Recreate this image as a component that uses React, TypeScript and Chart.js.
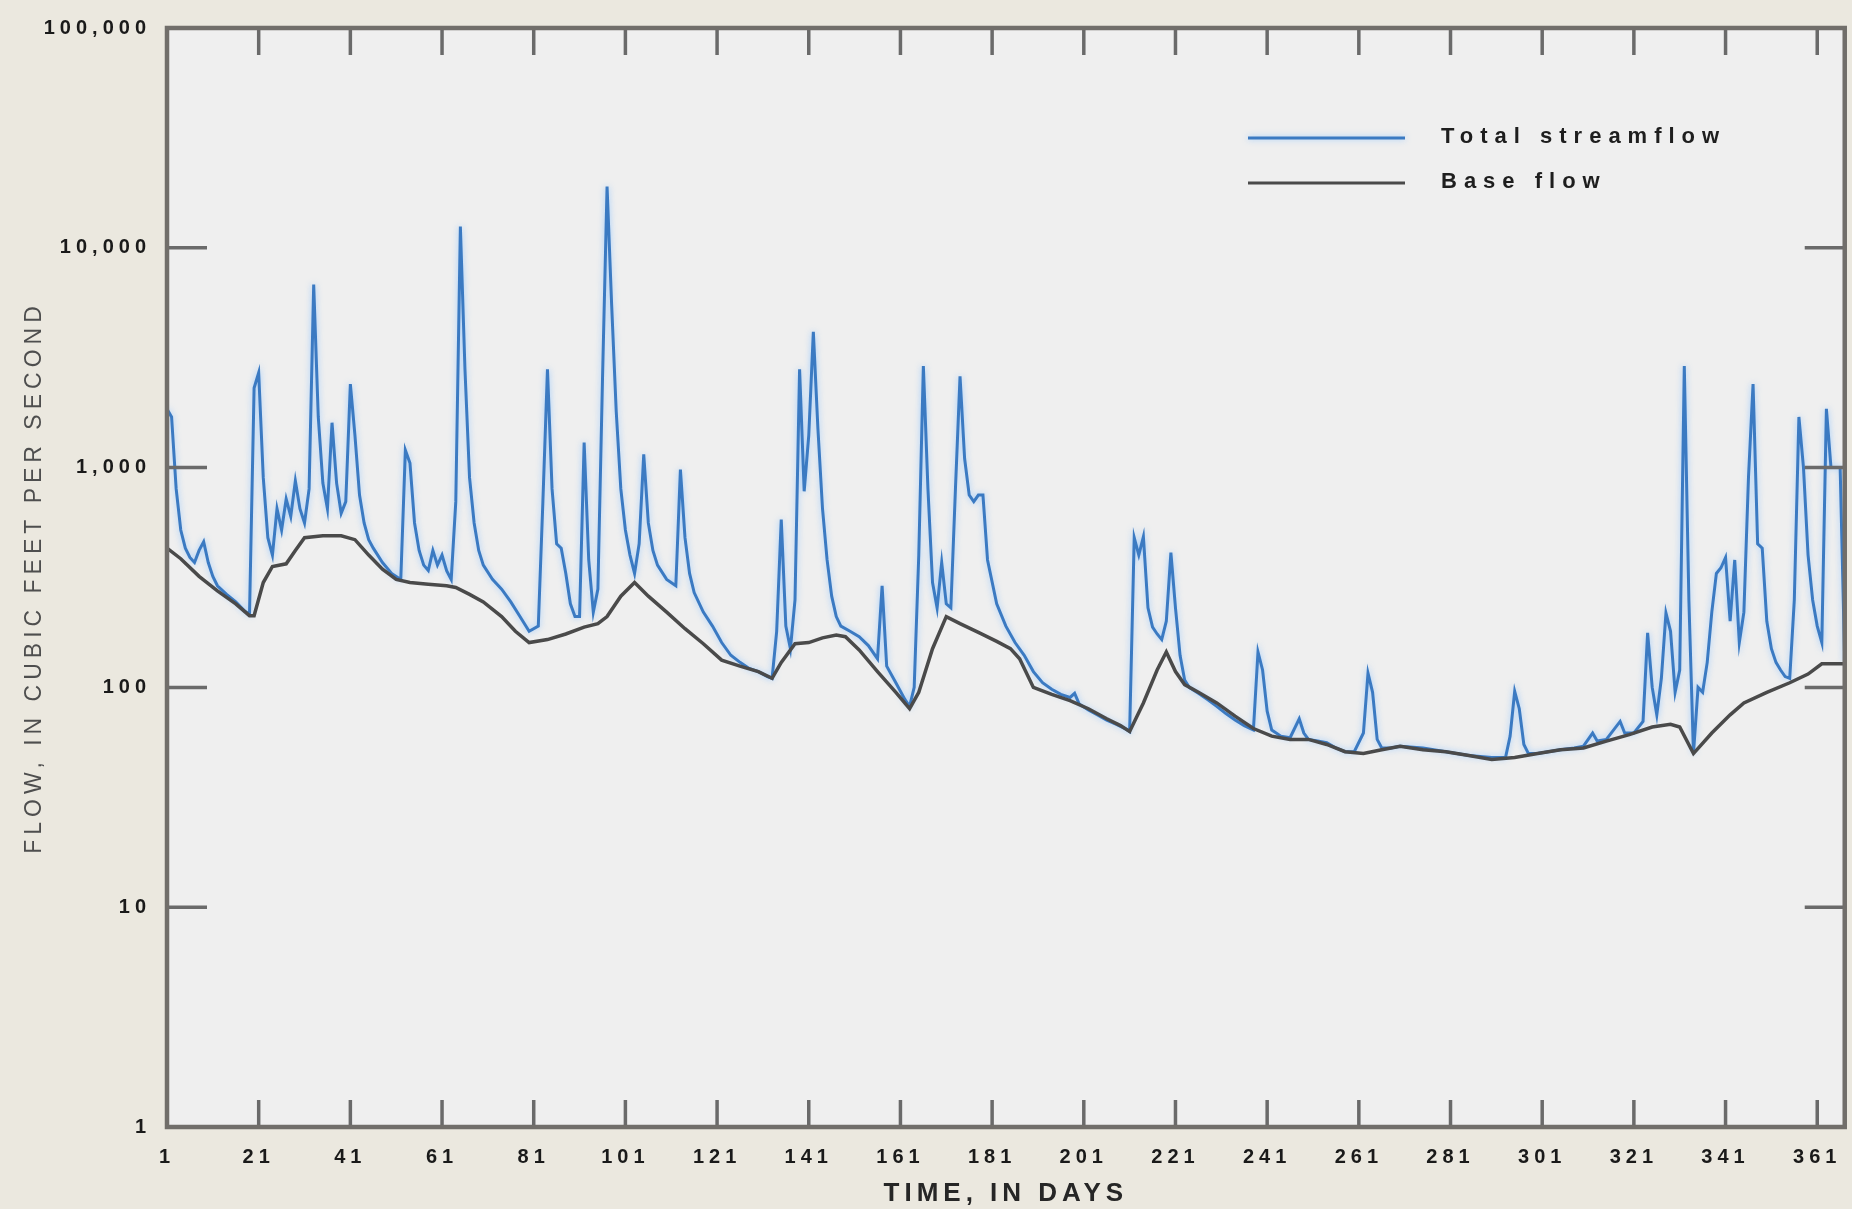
import React, { useEffect, useRef } from 'react';
import { Chart, registerables } from 'chart.js';

Chart.register(...registerables);

// ---- Data ----
const TOTAL_DAYS = [
  1, 2, 3, 4, 5, 6, 7, 8, 9, 10, 11, 12, 14, 16, 18, 19, 20, 21, 22, 23, 24, 25, 26, 27, 28, 29, 30,
  31, 32, 33, 34, 35, 36, 37, 38, 39, 40, 41, 42, 43, 44, 45, 46, 48, 50, 52, 53, 54, 55, 56, 57, 58,
  59, 60, 61, 62, 63, 64, 65, 66, 67, 68, 69, 70, 72, 74, 76, 78, 80, 82, 83, 84, 85, 86, 87, 88, 89,
  90, 91, 92, 93, 94, 95, 96, 97, 98, 99, 100, 101, 102, 103, 104, 105, 106, 107, 108, 110, 112, 113,
  114, 115, 116, 118, 120, 122, 124, 126, 128, 130, 132, 133, 134, 135, 136, 137, 138, 139, 140, 141,
  142, 143, 144, 145, 146, 147, 148, 150, 152, 154, 156, 157, 158, 160, 162, 163, 164, 165, 166, 167,
  168, 169, 170, 171, 172, 173, 174, 175, 176, 177, 178, 179, 180, 182, 184, 186, 188, 190, 192, 194,
  196, 198, 199, 200, 202, 204, 206, 208, 210, 211, 212, 213, 214, 215, 216, 217, 218, 219, 220, 221,
  222, 223, 224, 226, 228, 230, 232, 234, 236, 238, 239, 240, 241, 242, 244, 246, 248, 249, 250, 252,
  254, 256, 258, 260, 262, 263, 264, 265, 266, 268, 270, 275, 280, 285, 290, 293, 294, 295, 296, 297,
  298, 300, 305, 308, 310, 312, 313, 315, 318, 319, 321, 323, 324, 325, 326, 327, 328, 329, 330, 331,
  332, 333, 334, 335, 336, 337, 338, 339, 340, 341, 342, 343, 344, 345, 346, 347, 348, 349, 350, 351,
  352, 353, 354, 355, 356, 357, 358, 359, 360, 361, 362, 363, 364, 365, 366, 367,
];
const TOTAL_FLOW = [
  1850, 1700, 800, 520, 430, 390, 370, 420, 460, 370, 320, 290, 265, 245, 222, 215, 2300, 2700, 900, 480, 400, 650, 520, 720, 600, 870, 650,
  560, 800, 6800, 1700, 850, 650, 1600, 850, 620, 700, 2400, 1400, 750, 560, 470, 430, 370, 330, 310, 1200, 1050, 560, 420, 360, 340,
  420, 360, 400, 340, 310, 700, 12500, 2800, 900, 560, 420, 360, 310, 280, 245, 210, 180, 190, 700, 2800, 800, 450, 430, 330, 240,
  210, 210, 1300, 380, 220, 280, 2500, 19000, 5500, 1800, 800, 520, 400, 330, 450, 1150, 560, 420, 360, 310, 290, 980,
  480, 330, 270, 220, 190, 160, 140, 130, 122, 118, 112, 110, 180, 580, 190, 150, 250, 2800, 780, 1400,
  4150, 1500, 650, 380, 260, 210, 190, 180, 170, 155, 135, 290, 125, 105, 88, 82, 100, 400, 2900, 800,
  300, 230, 370, 240, 230, 800, 2600, 1100, 750, 700, 750, 750, 380, 240, 190, 160, 140, 118, 105, 98,
  93, 90, 94, 84, 79, 75, 71, 68, 65, 63, 480, 400, 485, 230, 188, 175, 165, 200, 410, 230,
  140, 108, 100, 94, 88, 82, 76, 71, 67, 64, 145, 120, 78, 64, 60, 59, 72, 62, 58, 57,
  56, 53, 51, 51, 62, 116, 95, 58, 53, 53, 54, 53, 51, 49, 48, 48, 60, 96, 80, 55,
  50, 50, 52, 53, 54, 62, 57, 58, 70, 62, 62, 70, 177, 100, 75, 110, 218, 180, 95, 120,
  2900, 250, 50, 100, 95, 130, 220, 330, 350, 390, 200, 380, 160, 220, 900, 2400, 450, 430, 200, 150,
  130, 120, 112, 110, 250, 1700, 1000, 400, 250, 190, 160, 1850, 1000, 1000, 1000, 130,
];

const BASE_DAYS = [
  1, 4, 8, 12, 16, 19, 20, 22, 24, 27, 29, 31, 35, 39, 42, 45, 48, 51, 54, 58, 62, 64, 67, 70, 74,
  77, 80, 84, 88, 92, 95, 97, 100, 103, 106, 110, 114, 118, 122, 126, 130, 133, 135, 138, 141, 144,
  147, 149, 152, 156, 160, 163, 165, 168, 171, 174, 178, 182, 185, 187, 190, 194, 198, 202, 206, 209,
  211, 214, 217, 219, 221, 223, 226, 230, 234, 238, 242, 246, 250, 254, 258, 262, 266, 270, 275, 280,
  285, 290, 295, 300, 305, 310, 315, 320, 325, 329, 331, 334, 338, 342, 345, 350, 355, 359, 362, 367,
];
const BASE_FLOW = [
  430, 385, 320, 275, 240, 212, 212, 300, 355, 365, 420, 480, 490, 490, 470, 400, 345, 310, 300, 295, 290, 285, 265, 245, 210,
  180, 160, 165, 175, 188, 195, 210, 260, 300, 260, 220, 185, 158, 133, 125, 118, 110, 130, 158, 160, 168,
  173, 170, 148, 118, 95, 80, 95, 150, 210, 195, 178, 162, 150, 135, 100, 93, 87, 80, 72, 67,
  63, 85, 120, 145, 118, 103, 95, 85, 74, 65, 60, 58, 58, 55, 51, 50, 52, 54, 52, 51,
  49, 47, 48, 50, 52, 53, 57, 61, 66, 68, 66, 50, 62, 75, 85, 95, 105, 115, 128, 128,
];

const X_TICKS = [1, 21, 41, 61, 81, 101, 121, 141, 161, 181, 201, 221, 241, 261, 281, 301, 321, 341, 361];
const Y_TICKS = [1, 10, 100, 1000, 10000, 100000];
const SERIES_LABELS = ['Total streamflow', 'Base flow'];
const X_TITLE = 'TIME, IN DAYS';
const Y_TITLE = 'FLOW, IN CUBIC FEET PER SECOND';

const TOTAL_COLOR = '#3b7ac2';
const BASE_COLOR = '#4a4a4a';
const FONT = "'Liberation Sans', Arial, sans-serif";

const decorPlugin = {
  id: 'decor',
  beforeDraw(chart: any) {
    const { ctx, chartArea: a, width, height } = chart;
    ctx.save();
    ctx.fillStyle = '#ebe8df';
    ctx.fillRect(0, 0, width, height);
    ctx.fillStyle = '#efefef';
    ctx.fillRect(a.left, a.top, a.right - a.left, a.bottom - a.top);
    ctx.restore();
    ctx.letterSpacing = '5px';
  },
  beforeDatasetsDraw(chart: any) {
    chart.ctx.letterSpacing = '0px';
  },
  beforeDatasetDraw(chart: any, args: any) {
    const ctx = chart.ctx;
    if (args.index === 1) {
      ctx.shadowColor = 'rgba(140,195,255,0.8)';
      ctx.shadowBlur = 6;
    }
  },
  afterDatasetDraw(chart: any) {
    const ctx = chart.ctx;
    ctx.shadowColor = 'rgba(0,0,0,0)';
    ctx.shadowBlur = 0;
  },
  afterDraw(chart: any) {
    const { ctx, chartArea: a } = chart;
    const xs = chart.scales.x;
    const ys = chart.scales.y;
    ctx.save();
    ctx.letterSpacing = '0px';
    const line = (x1: number, y1: number, x2: number, y2: number) => {
      ctx.beginPath();
      ctx.moveTo(x1, y1);
      ctx.lineTo(x2, y2);
      ctx.stroke();
    };
    // inner ticks
    ctx.strokeStyle = '#6a6a6a';
    ctx.lineWidth = 3.5;
    X_TICKS.forEach((v) => {
      const px = xs.getPixelForValue(v);
      line(px, a.top, px, a.top + 27);
      line(px, a.bottom, px, a.bottom - 27);
    });
    Y_TICKS.forEach((v) => {
      const py = ys.getPixelForValue(v);
      line(a.left, py, a.left + 40, py);
      line(a.right, py, a.right - 40, py);
    });
    // frame
    ctx.strokeStyle = '#716e6a';
    ctx.lineWidth = 4.5;
    ctx.strokeRect(a.left, a.top, a.right - a.left, a.bottom - a.top);

    // legend
    const items = [
      { label: SERIES_LABELS[0], color: TOTAL_COLOR, y: 138 },
      { label: SERIES_LABELS[1], color: BASE_COLOR, y: 183 },
    ];
    items.forEach((it, i) => {
      ctx.strokeStyle = it.color;
      ctx.lineWidth = 3;
      if (i === 0) {
        ctx.shadowColor = 'rgba(140,195,255,0.8)';
        ctx.shadowBlur = 6;
      }
      line(1248, it.y, 1405, it.y);
      ctx.shadowColor = 'rgba(0,0,0,0)';
      ctx.shadowBlur = 0;
      ctx.fillStyle = '#1e1e1e';
      ctx.font = `bold 22px ${FONT}`;
      ctx.textAlign = 'left';
      ctx.textBaseline = 'middle';
      ctx.letterSpacing = '7px';
      ctx.fillText(it.label, 1441, it.y - 1);
      ctx.letterSpacing = '0px';
    });
    ctx.restore();
  },
};

export default function App() {
  const ref = useRef<HTMLCanvasElement | null>(null);

  useEffect(() => {
    document.body.style.margin = '0';
    document.body.style.background = '#ebe8df';
    const canvas = ref.current;
    if (!canvas) return;
    const chart = new Chart(canvas, {
      type: 'line',
      data: {
        datasets: [
          {
            label: SERIES_LABELS[1],
            data: BASE_DAYS.map((d, i) => ({ x: d, y: BASE_FLOW[i] })),
            borderColor: BASE_COLOR,
            borderWidth: 3.5,
            pointRadius: 0,
            tension: 0,
            fill: false,
          },
          {
            label: SERIES_LABELS[0],
            data: TOTAL_DAYS.map((d, i) => ({ x: d, y: TOTAL_FLOW[i] })),
            borderColor: TOTAL_COLOR,
            borderWidth: 3,
            pointRadius: 0,
            tension: 0,
            fill: false,
          },
        ],
      },
      options: {
        animation: false,
        responsive: false,
        maintainAspectRatio: false,
        devicePixelRatio: 1,
        layout: { padding: { top: 14, right: 5, left: 0, bottom: 0 } },
        plugins: {
          legend: { display: false },
          tooltip: { enabled: false },
        },
        scales: {
          x: {
            type: 'linear',
            position: 'bottom',
            min: 1,
            max: 367,
            afterBuildTicks: (s: any) => {
              s.ticks = X_TICKS.map((v) => ({ value: v }));
            },
            afterFit: (s: any) => {
              s.height = 82;
            },
            grid: { display: false, drawTicks: false },
            border: { display: false },
            ticks: {
              autoSkip: false,
              maxRotation: 0,
              padding: 18,
              color: '#1a1a1a',
              font: { family: FONT, size: 20, weight: 'bold' },
              callback: (v: any) => String(v),
            },
            title: {
              display: true,
              text: X_TITLE,
              color: '#262626',
              font: { family: FONT, size: 26, weight: 'bold', lineHeight: 1.2 },
              padding: { top: 0, bottom: 0 },
            },
          },
          y: {
            type: 'logarithmic',
            position: 'left',
            min: 1,
            max: 100000,
            afterBuildTicks: (s: any) => {
              s.ticks = Y_TICKS.map((v) => ({ value: v }));
            },
            afterFit: (s: any) => {
              s.width = 167;
            },
            grid: { display: false, drawTicks: false },
            border: { display: false },
            ticks: {
              autoSkip: false,
              padding: 16,
              color: '#1a1a1a',
              font: { family: FONT, size: 20, weight: 'bold' },
              callback: (v: any) => Number(v).toLocaleString('en-US'),
            },
            title: {
              display: true,
              text: Y_TITLE,
              color: '#4e4e4e',
              font: { family: FONT, size: 23, weight: 'normal', lineHeight: 1.2 },
              padding: { top: 21, bottom: 0 },
            },
          },
        },
      },
      plugins: [decorPlugin],
    } as any);
    return () => chart.destroy();
  }, []);

  return (
    <canvas
      ref={ref}
      width={1852}
      height={1209}
      style={{ display: 'block', width: '1852px', height: '1209px' }}
    />
  );
}
